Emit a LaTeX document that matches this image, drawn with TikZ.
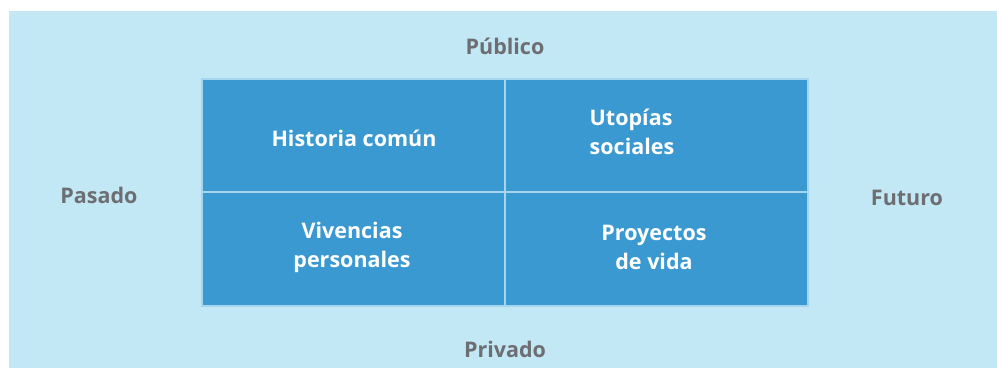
\documentclass[tikz,border=0pt]{standalone}
\usepackage{fontspec}
\setmainfont{Open Sans}
\definecolor{bgblue}{HTML}{C2E7F5}
\definecolor{cellblue}{HTML}{3A99D0}
\definecolor{cellline}{HTML}{A6D5F0}
\definecolor{axisgrey}{HTML}{6D6E71}
\tikzset{
  cell/.style={fill=cellblue, draw=cellline, line width=1.5pt},
  celltext/.style={text=white, font=\bfseries\fontsize{21.5}{29}\selectfont, align=center, inner sep=0pt},
  axistext/.style={text=axisgrey, font=\bfseries\fontsize{21.5}{24}\selectfont, inner sep=0pt}
}
\begin{document}
\begin{tikzpicture}[x=1pt,y=1pt]
\useasboundingbox (0,0) rectangle (997,368);
\fill[bgblue] (9,0) rectangle (997,357);
% cells (y = 368 - pixel y)
\draw[cell] (202,176) rectangle (505,289);
\draw[cell] (505,176) rectangle (808,289);
\draw[cell] (202,62) rectangle (505,176);
\draw[cell] (505,62) rectangle (808,176);
\node[celltext] (hc) at (354,230) {Historia común};
\node[celltext, align=left] (us) at (632,236) {Utopías\\sociales};
\node[celltext] (vp) at (352,121) {Vivencias\\personales};
\node[celltext] (pv) at (654,121) {Proyectos\\de vida};
\node[axistext] (pub) at (505,322) {Público};
\node[axistext] (pri) at (505,19) {Privado};
\node[axistext] (pas) at (99,173) {Pasado};
\node[axistext] (fut) at (907,170) {Futuro};
\end{tikzpicture}
\end{document}
